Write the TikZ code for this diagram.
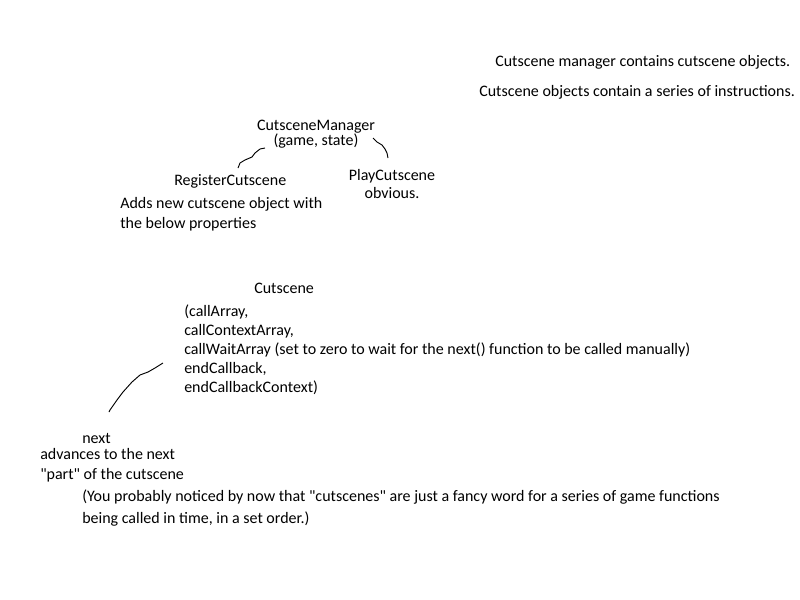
\documentclass[tikz,border=0pt]{standalone}
\usepackage{fontspec}
\setmainfont{Carlito}[Ligatures=TeXOff]
\begin{document}
\begin{tikzpicture}[x=0.75pt,y=-0.75pt,
  txt/.style={inner sep=0pt,anchor=west,font=\fontsize{12pt}{14.2pt}\selectfont,align=left},
  ctxt/.style={inner sep=0pt,anchor=center,font=\fontsize{12pt}{13.5pt}\selectfont,align=center},
  squig/.style={line width=0.7pt,black}]
\useasboundingbox[fill=white] (0,0) rectangle (800,600);
\node[txt] (n1) at (495,62) {Cutscene manager contains cutscene objects.};
\node[txt] (n2) at (479,92) {Cutscene objects contain a series of instructions.};
\node[ctxt] (mgr) at (316,134) {CutsceneManager\\[-2.6pt](game, state)};
\node[txt] (reg) at (174,181) {RegisterCutscene};
\node[ctxt] (play) at (392,184) {PlayCutscene\\obvious.};
\node[txt,font=\fontsize{12pt}{15pt}\selectfont] (adds) at (120,214) {Adds new cutscene object with\\the below properties};
\node[txt] (cs) at (254,288) {Cutscene};
\node[txt] (props) at (184,350) {(callArray,\\callContextArray,\\callWaitArray (set to zero to wait for the next() function to be called manually)\\endCallback,\\endCallbackContext)};
\node[txt] (next) at (82,438) {next};
\node[txt,font=\fontsize{12pt}{15pt}\selectfont] (adv) at (40,465) {advances to the next\\"part" of the cutscene};
\node[txt,font=\fontsize{12pt}{16.5pt}\selectfont] (note) at (82,508) {(You probably noticed by now that "cutscenes" are just a fancy word for a series of game functions\\being called in time, in a set order.)};
\draw[squig] (265,148) -- (260,149) -- (255,153) -- (252,157) -- (245,160) -- (240,163) -- (238,168);
\draw[squig] (373,138) -- (377,142) -- (382,145) -- (385,149) -- (387,153) -- (388,158);
\draw[squig] (163,363) -- (155,368) -- (148,372) -- (140,375) -- (132,382) -- (123,392) -- (117,400) -- (110,410) -- (109,412);
\end{tikzpicture}
\end{document}
